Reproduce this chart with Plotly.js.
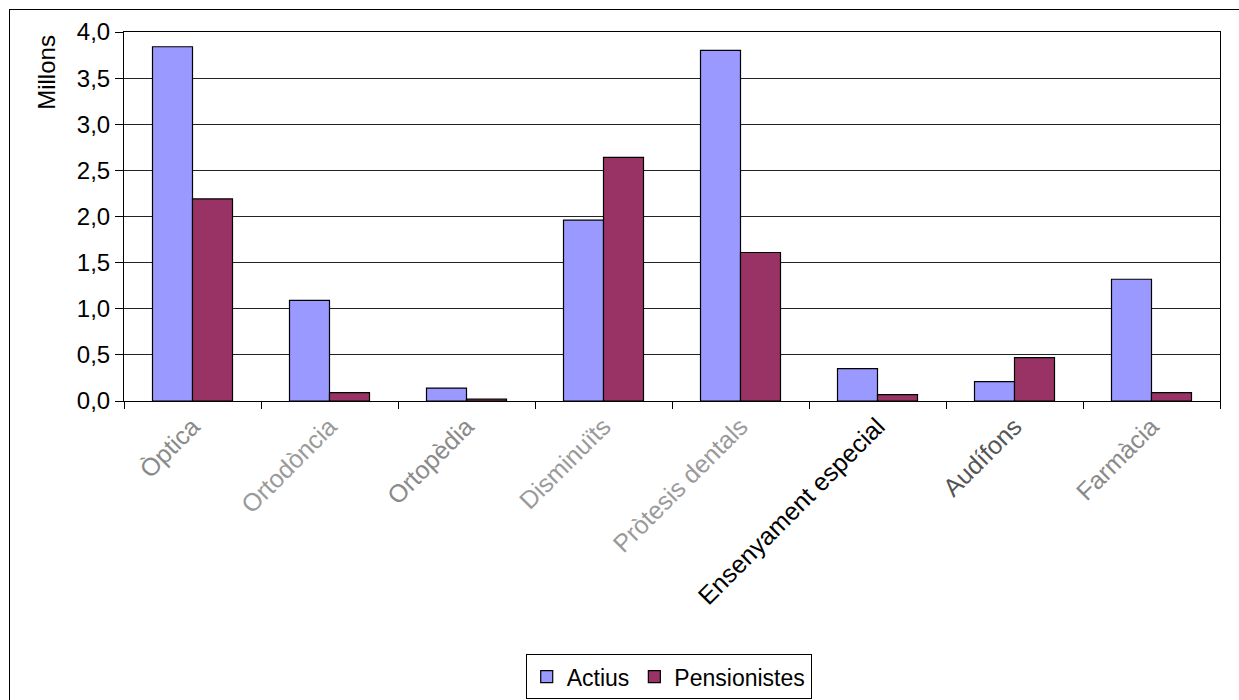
<!DOCTYPE html>
<html>
<head>
<meta charset="utf-8">
<script src="https://cdn.plot.ly/plotly-3.0.1.min.js"></script>
<style>
html,body{margin:0;padding:0;background:#fff;overflow:hidden;}
#wrap{position:relative;width:1239px;height:700px;overflow:hidden;}
#chart{position:absolute;left:0;top:0;width:1239px;height:700px;}
#frame{position:absolute;left:9px;top:9px;width:1240px;height:700px;border:1px solid #000;box-shadow:1px 1px 0 #999;pointer-events:none;}
</style>
</head>
<body>
<div id="wrap"><div id="chart"></div><div id="frame"></div></div>
<script>
var categories = ["Òptica", "Ortodòncia", "Ortopèdia", "Disminuïts", "Pròtesis dentals", "Ensenyament especial", "Audífons", "Farmàcia"];
var labelColors = ["#8a8a8a", "#9a9a9a", "#8a8a8a", "#9a9a9a", "#9a9a9a", "#000000", "#555555", "#8a8a8a"];
var actius = [3.84, 1.09, 0.14, 1.96, 3.80, 0.35, 0.21, 1.32];
var pensionistes = [2.19, 0.09, 0.02, 2.64, 1.61, 0.07, 0.47, 0.09];
var yTicks = [0, 0.5, 1, 1.5, 2, 2.5, 3, 3.5, 4];
var yTickText = ["0,0", "0,5", "1,0", "1,5", "2,0", "2,5", "3,0", "3,5", "4,0"];

var tickText = categories.map(function(c, i){
  return '<span style="color:' + labelColors[i] + '">' + c + '</span>';
});

var traces = [
  {type:'bar', name:'Actius', x:categories, y:actius,
   marker:{color:'#9999FF', line:{color:'#000', width:1.2}}},
  {type:'bar', name:'Pensionistes', x:categories, y:pensionistes,
   marker:{color:'#993366', line:{color:'#000', width:1.2}}}
];

var layout = {
  width:1239, height:700,
  margin:{l:124, r:19, t:32, b:299, pad:0, autoexpand:false},
  paper_bgcolor:'#fff', plot_bgcolor:'#fff',
  font:{family:'Liberation Sans, Arial, sans-serif', color:'#000', size:23},
  barmode:'group', bargap:0.416, bargroupgap:0,
  showlegend:true,
  legend:{orientation:'h', x:0.497, xanchor:'center', y:-0.686, yanchor:'top',
          bordercolor:'#000', borderwidth:1, font:{size:23},
          itemwidth:30, traceorder:'normal'},
  xaxis:{
    type:'category', tickmode:'array', tickvals:categories, ticktext:tickText,
    tickangle:-45, tickson:'boundaries', ticks:'outside', ticklen:7, tickcolor:'#000',
    showline:true, linecolor:'#000', linewidth:1, mirror:true,
    showgrid:false, tickfont:{size:25}, automargin:false
  },
  yaxis:{
    range:[0,4], tickmode:'array', tickvals:yTicks, ticktext:yTickText,
    ticks:'outside', ticklen:8, tickcolor:'#000',
    showline:true, linecolor:'#000', linewidth:1, mirror:true,
    showgrid:true, gridcolor:'#222', gridwidth:1, zeroline:false,
    tickfont:{size:24}, automargin:false
  },
  annotations:[{
    text:'Millons', xref:'paper', yref:'paper', x:-0.0703, y:0.892,
    xanchor:'center', yanchor:'middle', textangle:-90, showarrow:false,
    font:{size:24, color:'#000'}
  }]
};

Plotly.newPlot('chart', traces, layout, {displayModeBar:false, staticPlot:true});
</script>
</body>
</html>
